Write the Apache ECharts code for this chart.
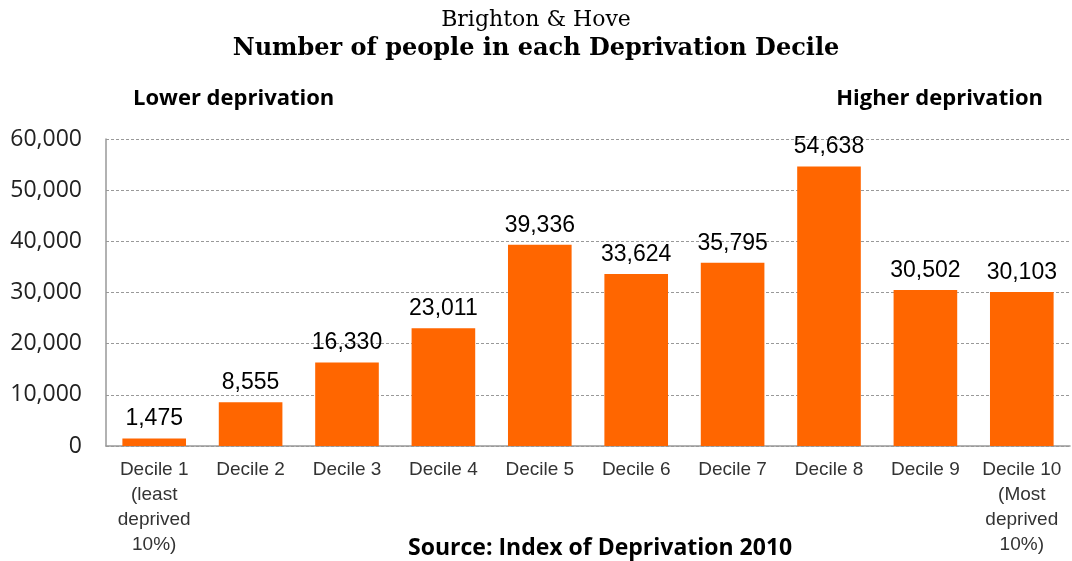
<!DOCTYPE html>
<html>
<head>
<meta charset="utf-8">
<script src="https://cdn.jsdelivr.net/npm/echarts@6/dist/echarts.min.js"></script>
<style>
  html, body { margin: 0; padding: 0; background: #fff; }
  #chart { width: 1072px; height: 561px; }
</style>
</head>
<body>
<div id="chart"></div>
<script>
// decile names as printed under the bars
const deciles = [
  'Decile 1\n(least\ndeprived\n10%)', 'Decile 2', 'Decile 3', 'Decile 4', 'Decile 5',
  'Decile 6', 'Decile 7', 'Decile 8', 'Decile 9', 'Decile 10\n(Most\ndeprived\n10%)'
];
const people = [1475, 8555, 16330, 23011, 39336, 33624, 35795, 54638, 30502, 30103];
const yTicks = [0, 10000, 20000, 30000, 40000, 50000, 60000];

const fmt = v => v.toLocaleString('en-GB');

const chart = echarts.init(document.getElementById('chart'));
chart.setOption({
  animation: false,
  title: [
    {
      text: 'Brighton & Hove',
      left: 'center', top: 4,
      textStyle: { fontFamily: 'DejaVu Serif', fontWeight: 'normal', fontSize: 22, color: '#000' }
    },
    {
      text: 'Number of people in each Deprivation Decile',
      left: 'center', top: 32,
      textStyle: { fontFamily: 'DejaVu Serif', fontWeight: 'bold', fontSize: 24, color: '#000' }
    },
    {
      text: 'Lower deprivation',
      left: 128, top: 83,
      textStyle: { fontFamily: 'Open Sans', fontWeight: 'bold', fontSize: 22, color: '#000' }
    },
    {
      text: 'Higher deprivation',
      right: 24, top: 83,
      textStyle: { fontFamily: 'Open Sans', fontWeight: 'bold', fontSize: 22, color: '#000' }
    },
    {
      text: 'Source: Index of Deprivation 2010',
      left: 403, top: 532,
      textStyle: { fontFamily: 'Open Sans', fontWeight: 'bold', fontSize: 23, color: '#000' }
    }
  ],
  grid: { left: 106, right: 2, top: 139, bottom: 115, containLabel: false },
  xAxis: {
    type: 'category',
    data: deciles,
    axisLine: { lineStyle: { color: '#999', width: 1.5 } },
    axisTick: { show: false },
    axisLabel: {
      interval: 0, margin: 11, color: '#333',
      fontFamily: 'Liberation Sans', fontSize: 19, lineHeight: 25, align: 'center'
    }
  },
  yAxis: {
    type: 'value',
    min: yTicks[0], max: yTicks[yTicks.length - 1], interval: 10000,
    axisLine: { show: true, lineStyle: { color: '#999', width: 1.5 } },
    axisTick: { show: false },
    splitLine: { lineStyle: { color: '#999', type: [3, 2], width: 1 } },
    axisLabel: {
      margin: 24, color: '#222',
      fontFamily: 'Open Sans', fontSize: 23,
      formatter: v => fmt(v)
    }
  },
  series: [{
    type: 'bar',
    data: people,
    barCategoryGap: '34%',
    itemStyle: { color: '#FF6600' },
    label: {
      show: true, position: 'top', distance: 8,
      fontFamily: 'Liberation Sans', fontSize: 23, color: '#000',
      formatter: p => fmt(p.value)
    }
  }]
});
</script>
</body>
</html>
